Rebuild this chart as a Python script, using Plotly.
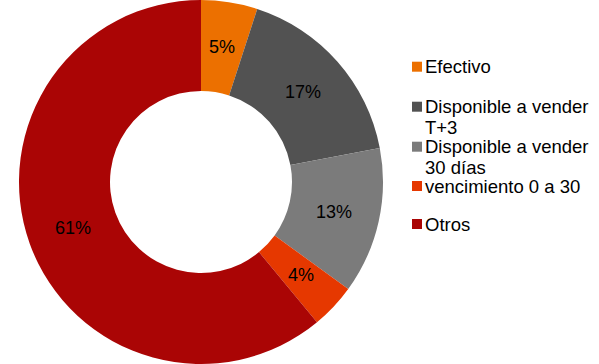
import math
import plotly.graph_objects as go

# Portfolio composition (percent of total)
labels = ["Efectivo", "Disponible a vender T+3", "Disponible a vender 30 días",
          "vencimiento 0 a 30", "Otros"]
values = [5, 17, 13, 4, 61]
colors = ["#EC7000", "#525252", "#7B7B7B", "#E63800", "#AA0505"]

# Legend text, one list of lines per category
legend_lines = [["Efectivo"], ["Disponible a vender", "T+3"],
                ["Disponible a vender", "30 días"], ["vencimiento 0 a 30"], ["Otros"]]

W, H = 599, 364
FONT = "Liberation Sans, Arial, sans-serif"

# Donut geometry (pixels)
CX, CY, R, HOLE = 201, H / 2, H / 2, 0.5

fig = go.Figure(
    go.Pie(
        labels=labels,
        values=values,
        hole=HOLE,
        sort=False,
        direction="clockwise",
        rotation=0,
        marker=dict(colors=colors, line=dict(width=0)),
        textinfo="none",
        domain=dict(x=[(CX - R) / W, (CX + R) / W], y=[0, 1]),
        showlegend=False,
        hoverinfo="label+percent",
    )
)

annotations = []

# Percent labels centred in the ring at each slice's mid-angle
total = sum(values)
r_mid = R * (1 + HOLE) / 2
cum = 0
for v in values:
    mid = (cum + v / 2) / total * 2 * math.pi
    cum += v
    px = CX + r_mid * math.sin(mid)
    py = CY - r_mid * math.cos(mid)
    annotations.append(dict(
        text=f"{round(100 * v / total)}%", xref="paper", yref="paper",
        x=px / W, y=1 - py / H, xanchor="center", yanchor="middle",
        showarrow=False, font=dict(family=FONT, size=18, color="#000000"),
    ))

# Custom legend: colour square plus label lines on the right
first_line_y = [66.7, 106.7, 146.7, 186.0, 224.0]
line_step = 21
shapes = []
for lines, col, y0 in zip(legend_lines, colors, first_line_y):
    shapes.append(dict(
        type="rect", xref="paper", yref="paper",
        x0=412 / W, x1=422 / W, y0=1 - (y0 + 5) / H, y1=1 - (y0 - 5) / H,
        fillcolor=col, line=dict(width=0),
    ))
    for i, line in enumerate(lines):
        annotations.append(dict(
            text=line, xref="paper", yref="paper",
            x=423.5 / W, y=1 - (y0 + i * line_step) / H,
            xanchor="left", yanchor="middle", showarrow=False,
            font=dict(family=FONT, size=18.5, color="#000000"),
        ))

fig.update_layout(
    width=W, height=H,
    margin=dict(l=0, r=0, t=0, b=0),
    paper_bgcolor="#FFFFFF",
    plot_bgcolor="#FFFFFF",
    annotations=annotations,
    shapes=shapes,
)

fig.write_html("out.html")
